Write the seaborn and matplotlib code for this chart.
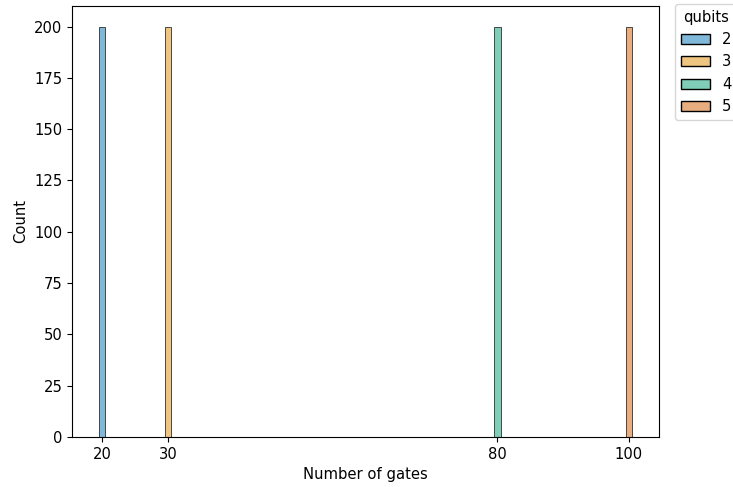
import matplotlib
matplotlib.use("Agg")
import matplotlib.pyplot as plt
import numpy as np
import pandas as pd
import seaborn as sns

# Circuits per qubit count and the gate count of each circuit family
qubits = [2, 3, 4, 5]
gates = [20, 30, 80, 100]
circuits_per_group = [200, 200, 200, 200]

df = pd.DataFrame({
    "qubits": np.repeat(qubits, circuits_per_group),
    "Number of gates": np.repeat(gates, circuits_per_group),
})

plt.rcParams["font.size"] = 10.6

fig = plt.figure(figsize=(7.33, 4.87), dpi=100)
ax = fig.add_axes([0.0982, 0.1027, 0.8008, 0.885])
sns.histplot(data=df, x="Number of gates", hue="qubits", discrete=True,
             palette="colorblind", ax=ax)
ax.set_xticks(gates)
sns.move_legend(ax, "upper left", bbox_to_anchor=(1.027, 1.005), borderaxespad=0)
fig.savefig("out.png", dpi=100)
